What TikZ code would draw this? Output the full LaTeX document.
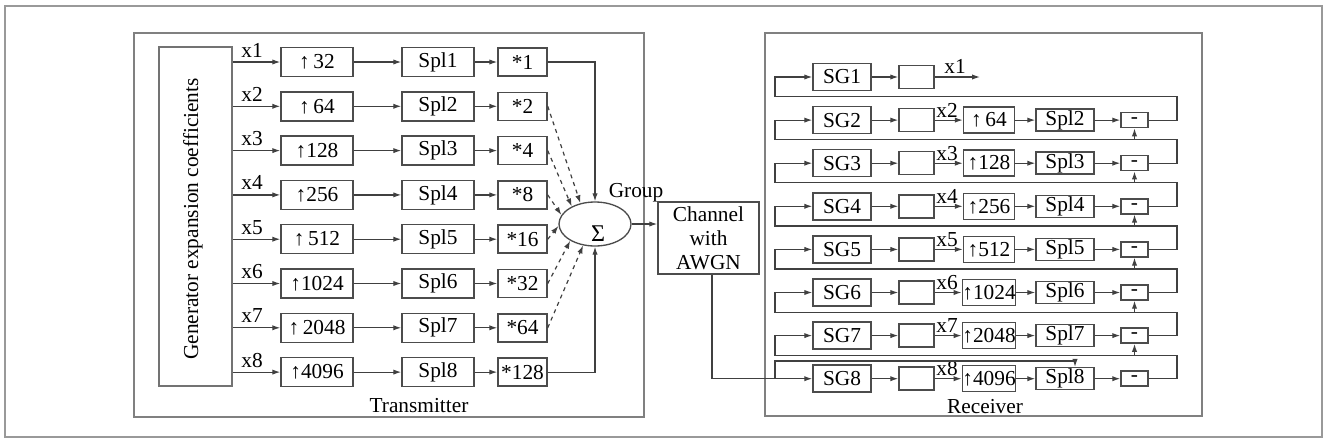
\documentclass[tikz,border=0pt]{standalone}
\usepackage{fontspec}
\setmainfont{Liberation Serif}
\usetikzlibrary{arrows.meta,shapes.geometric,calc}
\begin{document}
\begin{tikzpicture}[x=0.75pt,y=-0.75pt,
  font=\fontsize{16}{18}\selectfont,
  ln/.style={draw=black!75,line width=0.9pt},
  arr/.style={ln,-{Latex[length=6pt,width=4pt]}},
  bx/.style={draw=black!70,line width=1.1pt,inner sep=0pt,rectangle},
  tup/.style={bx,minimum width=54pt,minimum height=21.75pt},
  tstar/.style={bx,minimum width=36.75pt,minimum height=21pt},
  rsg/.style={bx,minimum width=43.5pt,minimum height=20.25pt},
  rempty/.style={bx,minimum width=26.25pt,minimum height=17.25pt},
  rup/.style={bx,minimum width=38.25pt,minimum height=19.5pt},
  rspl/.style={bx,minimum width=43.5pt,minimum height=16.5pt},
  rmin/.style={bx,minimum width=20.25pt,minimum height=11.25pt},
  frame/.style={draw=black!50,line width=1.5pt}
]
\useasboundingbox (0,0) rectangle (1327,443);
\draw[draw=black!40,line width=2.2pt] (5,6) rectangle (1322,437);

% ---------- Transmitter ----------
\draw[frame] (134,33) rectangle (644,417);
\node (tlabel) at (419,406) {Transmitter};
\node[bx,draw=black!55,line width=1.5pt,minimum width=54.75pt,minimum height=254.25pt] (gen) at (195.5,216.5) {};
\node[rotate=90] (gentext) at (193,219) {Generator expansion coefficients};

\foreach \k/\n in {1/{\,32},2/{\,64},3/128,4/256,5/{\,512},6/1024,7/{\,2048},8/4096} {
  \pgfmathsetmacro\y{62+(\k-1)*44.3}
  \pgfmathtruncatemacro\mult{2^(\k-1)}
  \node[tup] (u\k) at (317,\y) {↑\n};
  \node[tup] (p\k) at (438,\y) {Spl\k};
  \node[tstar] (m\k) at (522.5,\y) {*\mult};
  \draw[arr] (gen.east |- u\k) -- (u\k);
  \node[anchor=base] (xl\k) at (252,{\y-5}) {x\k};
  \draw[arr] (u\k) -- (p\k);
  \draw[arr] (p\k) -- (m\k);
}

\node[draw=black!70,line width=1pt,ellipse,minimum width=54pt,minimum height=33pt,inner sep=0pt] (sum) at (595,224) {};
\node[font=\fontsize{18}{20}\selectfont] (sigma) at (598,234) {Σ};
\node (group) at (636,193) {Group};
\draw[arr] (m1.east) -| (sum.north);
\draw[arr] (m8.east) -| (sum.south);
\draw[arr,dashed] (m2.east) -- (sum.125);
\draw[arr,dashed] (m3.east) -- (sum.143);
\draw[arr,dashed] (m4.east) -- (sum.165);
\draw[arr,dashed] (m5.east) -- (sum.183);
\draw[arr,dashed] (m6.east) -- (sum.214);
\draw[arr,dashed] (m7.east) -- (sum.241);

% ---------- Channel ----------
\node[bx,minimum width=75.75pt,minimum height=54pt,align=center] (chan) at (708.5,238) {Channel\\with\\AWGN};
\draw[arr] (sum.east) -- (sum.east -| chan.west);

% ---------- Receiver ----------
\draw[frame] (765,33) rectangle (1202,416);
\node (rlabel) at (985,407) {Receiver};

\foreach \k in {1,...,8} {
  \pgfmathsetmacro\y{77+(\k-1)*43.1}
  \node[rsg] (g\k) at (842,\y) {SG\k};
  \node[rempty] (e\k) at (916.5,\y) {};
  \draw[arr] (g\k) -- (e\k);
}
\coordinate (x1end) at (980,77);
\draw[arr] (e1.east) -- (x1end);
\node[anchor=base] (rx1) at (955,73) {x1};

\foreach \k/\n in {2/{\,64},3/128,4/256,5/512,6/1024,7/2048,8/4096} {
  \pgfmathsetmacro\y{77+(\k-1)*43.1}
  \pgfmathsetmacro\yb{\y-23.5}
  \pgfmathsetmacro\yp{\y-43.1}
  \pgfmathtruncatemacro\km{\k-1}
  \node[rup] (ru\k) at (989,\y) {↑\n};
  \node[rspl] (rs\k) at (1065,\y) {Spl\k};
  \node[rmin] (rm\k) at (1134.5,\y) {-};
  \draw[arr] (e\k) -- (ru\k);
  \node[anchor=base] (rx\k) at (947,{\y-3}) {x\k};
  \draw[arr] (ru\k) -- (rs\k);
  \draw[arr] (rs\k) -- (rm\k);
  \draw[arr] (rm\k.east) -- (1177,\y) |- (775,\yb) |- (g\km.west);
}
\foreach \k in {3,...,8} {
  \pgfmathsetmacro\yb{77+(\k-1)*43.1-23.5}
  \pgfmathtruncatemacro\km{\k-1}
  \draw[arr] (rm\km.south |- 0,\yb) -- (rm\km.south);
}
\draw[arr] ([xshift=2.6pt]chan.south) |- (g8.west);
\draw[arr] (775,378.7) -- (775,361) -- (1075,361) -- ([xshift=7.5pt]rs8.north);
\end{tikzpicture}
\end{document}
